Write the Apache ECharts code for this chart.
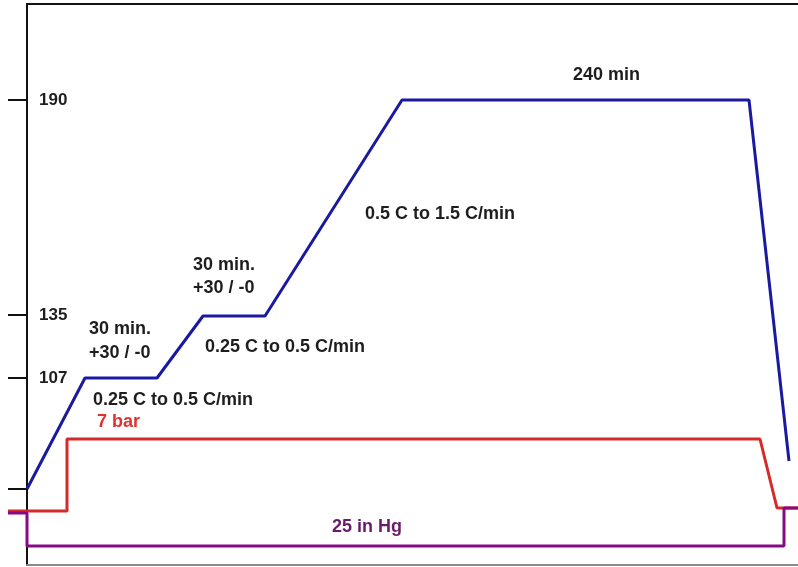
<!DOCTYPE html>
<html>
<head>
<meta charset="utf-8">
<script src="https://cdn.jsdelivr.net/npm/echarts@6/dist/echarts.min.js"></script>
<style>
  html, body { margin: 0; padding: 0; background: #fff; }
  #chart { width: 798px; height: 567px; }
</style>
</head>
<body>
<div id="chart"></div>
<script>
// schematic cure cycle, units are relative (diagram is not to scale)
const tempTime = [0, 58, 130, 176, 238, 375, 722, 762];
const tempLevel = [76, 187, 187, 249, 249, 465, 465, 104];
const pressTime = [-19, 40, 40, 733, 750, 771];
const pressLevel = [54, 54, 126, 126, 57, 57];
const vacTime = [-19, 0, 0, 757, 757, 771];
const vacLevel = [52, 52, 19, 19, 57, 57];
const tickLevels = [465, 250, 187, 76];
const tickLabels = ['190', '135', '107', ''];

const FONT = 'Arial, "Liberation Sans", sans-serif';

function pairs(xs, ys) {
  return xs.map((x, i) => [x, ys[i]]);
}

function note(text, x, y, color) {
  return {
    type: 'text', x: x, y: y,
    style: {
      text: text, fill: color || '#1e1e1e',
      font: 'bold 18px ' + FONT,
      verticalAlign: 'middle'
    }
  };
}

const hidden = {
  axisLine: { show: false }, axisTick: { show: false },
  axisLabel: { show: false }, splitLine: { show: false }
};

let chart = echarts.init(document.getElementById('chart'));
let option = {
  backgroundColor: '#fff',
  animation: false,
  grid: [
    // frame
    { left: 27, right: 0, top: 4, bottom: 2 },
    // plot area, reaches a bit left of the frame
    { left: 8, right: 0, top: 4, bottom: 2 }
  ],
  xAxis: [
    {
      type: 'value', gridIndex: 0, min: 0, max: 771, position: 'bottom',
      axisLine: { show: true, lineStyle: { color: '#8a8a8a', width: 2 } },
      axisTick: { show: false }, axisLabel: { show: false }, splitLine: { show: false }
    },
    {
      type: 'value', gridIndex: 0, min: 0, max: 771, position: 'top',
      axisLine: { show: true, lineStyle: { color: '#111', width: 2 } },
      axisTick: { show: false }, axisLabel: { show: false }, splitLine: { show: false }
    },
    Object.assign({ type: 'value', gridIndex: 1, min: -19, max: 771 }, hidden)
  ],
  yAxis: [
    {
      type: 'value', gridIndex: 0, min: 0, max: 561,
      axisLine: { show: true, lineStyle: { color: '#111', width: 2 } },
      axisTick: {
        show: true, inside: false, length: 19,
        customValues: tickLevels,
        lineStyle: { color: '#111', width: 2 }
      },
      axisLabel: {
        show: true, inside: true, margin: 12,
        customValues: tickLevels.filter((v, i) => tickLabels[i] !== ''),
        formatter: v => tickLabels[tickLevels.indexOf(v)],
        fontFamily: FONT, fontWeight: 'bold', fontSize: 17, color: '#1e1e1e'
      },
      splitLine: { show: false }
    },
    Object.assign({ type: 'value', gridIndex: 1, min: 0, max: 561 }, hidden)
  ],
  series: [
    {
      name: 'Pressure', type: 'line', xAxisIndex: 2, yAxisIndex: 1,
      data: pairs(pressTime, pressLevel),
      showSymbol: false,
      lineStyle: { color: '#d42a2a', width: 3 }
    },
    {
      name: 'Vacuum', type: 'line', xAxisIndex: 2, yAxisIndex: 1,
      data: pairs(vacTime, vacLevel),
      showSymbol: false,
      lineStyle: { color: '#860a86', width: 3 }
    },
    {
      name: 'Temperature', type: 'line', xAxisIndex: 2, yAxisIndex: 1,
      data: pairs(tempTime, tempLevel),
      showSymbol: false,
      lineStyle: { color: '#1a1aa0', width: 3 }
    }
  ],
  graphic: [
    note('240 min', 573, 75),
    note('0.5 C to 1.5 C/min', 365, 214),
    note('30 min.', 193, 265),
    note('+30 / -0', 193, 288),
    note('0.25 C to 0.5 C/min', 205, 347),
    note('30 min.', 89, 329),
    note('+30 / -0', 89, 353),
    note('0.25 C to 0.5 C/min', 93, 400),
    note('7 bar', 97, 422, '#e03030'),
    note('25 in Hg', 332, 527, '#6a1a6a')
  ]
};

option && chart.setOption(option);
</script>
</body>
</html>
